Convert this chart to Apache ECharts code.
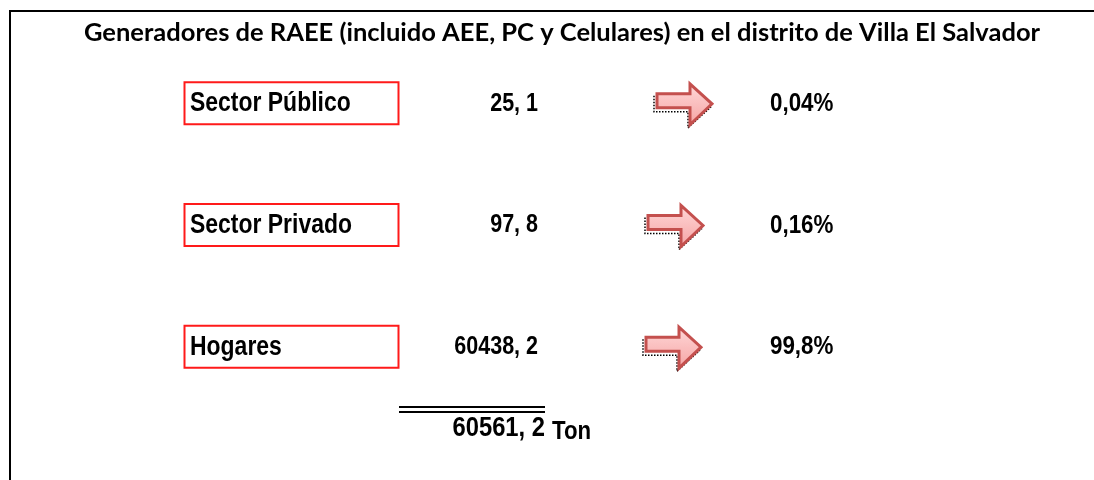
<!DOCTYPE html>
<html>
<head>
<meta charset="utf-8">
<script src="https://cdn.jsdelivr.net/npm/echarts@6/dist/echarts.min.js"></script>
<style>
  html, body { margin: 0; padding: 0; background: #fff; }
  #chart { width: 1094px; height: 480px; }
</style>
</head>
<body>
<div id="chart"></div>
<script>
const titulo = 'Generadores de RAEE (incluido AEE, PC y Celulares) en el distrito de Villa El Salvador'
const sectores = ['Sector Público', 'Sector Privado', 'Hogares']
const valores = [25.1, 97.8, 60438.2]
const porcentajes = [0.04, 0.16, 99.8]
const total = 60561.2
const unidad = 'Ton'

// no Arial Narrow here, so squeeze Liberation Sans horizontally
const sans = '"Liberation Sans", Arial, sans-serif'
// arrows are not perfectly lined up in the original
const arrowLeft = [657, 648, 646]

function fmtValor (v) {
  return v.toFixed(1).replace('.', ', ')
}
function fmtPct (p) {
  return String(p).replace('.', ',') + '%'
}

function narrowText (txt, x, y, size, squeeze, align) {
  return {
    type: 'text',
    x: x,
    y: y,
    scaleX: squeeze,
    style: {
      text: txt, x: 0, y: 0,
      font: 'bold ' + size + 'px ' + sans, fill: '#000',
      align: align, verticalAlign: 'middle'
    }
  }
}

function renderRow (params, api) {
  let i = params.dataIndex
  let cy = api.coord([0, api.value(1)])[1]
  let ax = arrowLeft[i]
  let arrowPts = [
    [ax, cy - 9], [ax + 33, cy - 9], [ax + 33, cy - 19],
    [ax + 55, cy + 1], [ax + 33, cy + 22], [ax + 33, cy + 5], [ax, cy + 5]
  ]
  // dotted shadow only under the bottom side
  let shadowPts = [
    [ax - 3, cy - 7], [ax - 3, cy + 9], [ax + 31, cy + 9], [ax + 31, cy + 25], [ax + 54, cy + 4]
  ]
  return {
    type: 'group',
    children: [
      {
        type: 'rect',
        shape: { x: 184.5, y: cy - 20.5, width: 214, height: 42 },
        style: { fill: 'none', stroke: '#ff1a1a', lineWidth: 2 }
      },
      narrowText(sectores[i], 190, cy + 1, 27, 0.85, 'left'),
      narrowText(fmtValor(api.value(2)), 538, cy + 1, 25, 0.86, 'right'),
      {
        type: 'polyline',
        shape: { points: shadowPts },
        style: { fill: 'none', stroke: '#000', lineWidth: 1.5, lineDash: [1.5, 1.5] }
      },
      {
        type: 'polygon',
        shape: { points: arrowPts },
        style: {
          fill: new echarts.graphic.LinearGradient(0, 0, 0, 1, [
            { offset: 0, color: '#ffd9d9' },
            { offset: 1, color: '#f5a3a3' }
          ]),
          stroke: '#c4504e',
          lineWidth: 3,
          lineJoin: 'miter'
        }
      },
      narrowText(fmtPct(api.value(3)), 770, cy + 1, 26, 0.86, 'left')
    ]
  }
}

const chart = echarts.init(document.getElementById('chart'), null, { renderer: 'canvas' })
chart.setOption({
  backgroundColor: '#fff',
  animation: false,
  title: {
    text: titulo,
    left: 79,
    top: 15,
    textStyle: {
      fontFamily: 'Lato, "Open Sans", sans-serif',
      fontWeight: 'bold',
      fontSize: 25.5,
      color: '#000'
    }
  },
  grid: { left: 0, right: 0, top: 42, bottom: 73 },
  xAxis: { type: 'value', min: 0, max: 1094, show: false },
  yAxis: { type: 'category', data: sectores, inverse: true, show: false },
  series: [{
    type: 'custom',
    renderItem: renderRow,
    data: sectores.map((s, i) => [0, s, valores[i], porcentajes[i]])
  }],
  graphic: [
    {
      type: 'polyline',
      shape: { points: [[1100, 11], [10, 11], [10, 490]] },
      style: { fill: 'none', stroke: '#000', lineWidth: 2 }
    },
    {
      type: 'line',
      shape: { x1: 399, y1: 407, x2: 545, y2: 407 },
      style: { stroke: '#000', lineWidth: 2 }
    },
    {
      type: 'line',
      shape: { x1: 399, y1: 412, x2: 545, y2: 412 },
      style: { stroke: '#000', lineWidth: 2 }
    },
    narrowText(fmtValor(total), 545, 429, 27, 0.88, 'right'),
    narrowText(unidad, 552, 432, 25, 0.89, 'left')
  ]
})
</script>
</body>
</html>
